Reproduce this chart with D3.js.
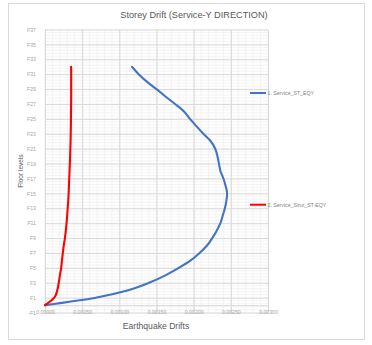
<!DOCTYPE html>
<html>
<head>
<meta charset="utf-8">
<script src="https://cdn.jsdelivr.net/npm/d3@7"></script>
<style>
  html, body { margin: 0; padding: 0; background: #fff; }
  svg { display: block; }
</style>
</head>
<body>
<svg id="chart" width="372" height="345"></svg>
<script>
// Floor levels (0 = ground) and storey drift per series
const floors = d3.range(0, 33);
const serviceST = [
  0, 0.00068, 0.00112, 0.00140, 0.00162, 0.00180, 0.00196, 0.00208, 0.00218,
  0.00225, 0.00231, 0.00236, 0.00239, 0.00242, 0.00244, 0.00245, 0.00243,
  0.00240, 0.00236, 0.00234, 0.00232, 0.00229, 0.00223, 0.00213, 0.00204,
  0.00195, 0.00187, 0.00175, 0.00162, 0.00150, 0.00137, 0.00126, 0.00117
];
const serviceStrut = [
  0, 0.000125, 0.000165, 0.000185, 0.000200, 0.000218, 0.000228, 0.000240,
  0.000252, 0.000268, 0.000280, 0.000290, 0.000298, 0.000305, 0.000313,
  0.000318, 0.000322, 0.000326, 0.000330, 0.000334, 0.000338, 0.000341,
  0.000344, 0.000346, 0.000348, 0.000349, 0.000350, 0.000351, 0.000352,
  0.000352, 0.000352, 0.000352, 0.000351
];
const seriesNames = ["1. Service_ST_EQY", "2. Service_Strut_ST-EQY"];
const seriesColors = ["#4472C4", "#FF0000"];
const xTicks = [0, 0.0005, 0.001, 0.0015, 0.002, 0.0025, 0.003];
const yTicks = d3.range(-1, 38, 2);
const titleText = "Storey Drift (Service-Y DIRECTION)";
const xTitle = "Earthquake Drifts";
const yTitle = "Floor levels";

const svg = d3.select("#chart");
const plot = { left: 45, right: 268, top: 29.5, bottom: 312.6 };

const x = d3.scaleLinear().domain([0, 0.003]).range([plot.left, plot.right]);
const y = d3.scaleLinear().domain([-1, 37]).range([plot.bottom, plot.top]);

// chart frame
svg.append("rect")
  .attr("x", 8.5).attr("y", 3.5).attr("width", 356).attr("height", 336)
  .attr("fill", "#fff").attr("stroke", "#d9d9d9").attr("stroke-width", 1);

// minor gridlines
const g = svg.append("g");
g.selectAll("line.vminor").data(d3.range(0, 0.00300001, 0.0001))
  .join("line").attr("class", "vminor")
  .attr("x1", d => x(d)).attr("x2", d => x(d))
  .attr("y1", plot.top).attr("y2", plot.bottom)
  .attr("stroke", "#efefef").attr("stroke-width", 0.7);
g.selectAll("line.hminor").data(d3.range(-1, 37.0001, 0.4))
  .join("line").attr("class", "hminor")
  .attr("x1", plot.left).attr("x2", plot.right)
  .attr("y1", d => y(d)).attr("y2", d => y(d))
  .attr("stroke", "#efefef").attr("stroke-width", 0.7);

// major gridlines via axes
const xGrid = d3.axisBottom(x).tickValues(xTicks)
  .tickSize(-(plot.bottom - plot.top)).tickFormat("");
svg.append("g").attr("transform", `translate(0,${plot.bottom})`).call(xGrid)
  .call(s => s.select(".domain").remove())
  .call(s => s.selectAll("line").attr("stroke", "#d9d9d9"));
const yGrid = d3.axisLeft(y).tickValues(yTicks)
  .tickSize(-(plot.right - plot.left)).tickFormat("");
svg.append("g").attr("transform", `translate(${plot.left},0)`).call(yGrid)
  .call(s => s.select(".domain").remove())
  .call(s => s.selectAll("line").attr("stroke", "#d9d9d9"));

// horizontal axis crosses at floor 0
const xAxis = d3.axisBottom(x).tickValues(xTicks).tickSize(0)
  .tickFormat(d => d3.format(".5f")(d));
svg.append("g").attr("transform", `translate(0,${y(0)})`).call(xAxis)
  .call(s => s.select(".domain").attr("stroke", "#d9d9d9"))
  .call(s => s.selectAll("text")
    .attr("dy", 0).attr("y", 9)
    .attr("fill", "#a6a6a6")
    .attr("font-family", "Liberation Sans, Arial, sans-serif")
    .attr("font-size", 5.2));

const yAxis = d3.axisLeft(y).tickValues(yTicks).tickSize(0).tickPadding(9)
  .tickFormat(d => d < 0 ? "-F" + Math.abs(d) : "F" + d);
svg.append("g").attr("transform", `translate(${plot.left},0)`).call(yAxis)
  .call(s => s.select(".domain").remove())
  .call(s => s.selectAll("text")
    .attr("fill", "#a6a6a6")
    .attr("font-family", "Liberation Sans, Arial, sans-serif")
    .attr("font-size", 5.2));

// series lines
const series = [serviceST, serviceStrut];
const line = d3.line()
  .x(d => x(d[0])).y(d => y(d[1]))
  .curve(d3.curveMonotoneY);
series.forEach((vals, i) => {
  svg.append("path")
    .datum(vals.map((v, k) => [v, floors[k]]))
    .attr("d", line)
    .attr("fill", "none")
    .attr("stroke", seriesColors[i])
    .attr("stroke-width", 2.1)
    .attr("stroke-linejoin", "round")
    .attr("stroke-linecap", "round");
});

// legend
const legendY = [93, 204.7];
series.forEach((vals, i) => {
  svg.append("line")
    .attr("x1", 250).attr("x2", 266)
    .attr("y1", legendY[i]).attr("y2", legendY[i])
    .attr("stroke", seriesColors[i]).attr("stroke-width", 2);
  svg.append("text")
    .attr("x", 267.5).attr("y", legendY[i]).attr("dy", "0.35em")
    .attr("fill", "#7f7f7f")
    .attr("font-family", "Liberation Sans, Arial, sans-serif")
    .attr("font-size", 5.2)
    .text(seriesNames[i]);
});

// titles
svg.append("text")
  .attr("x", 194).attr("y", 18)
  .attr("text-anchor", "middle")
  .attr("fill", "#595959")
  .attr("font-family", "Liberation Sans, Arial, sans-serif")
  .attr("font-size", 9.2)
  .text(titleText);

svg.append("text")
  .attr("x", 156).attr("y", 329)
  .attr("text-anchor", "middle")
  .attr("fill", "#595959")
  .attr("font-family", "Liberation Sans, Arial, sans-serif")
  .attr("font-size", 8.6)
  .text(xTitle);

svg.append("text")
  .attr("transform", `translate(23,${(plot.top + plot.bottom) / 2}) rotate(-90)`)
  .attr("text-anchor", "middle")
  .attr("fill", "#595959")
  .attr("font-family", "Liberation Sans, Arial, sans-serif")
  .attr("font-size", 6.5)
  .text(yTitle);
</script>
</body>
</html>
